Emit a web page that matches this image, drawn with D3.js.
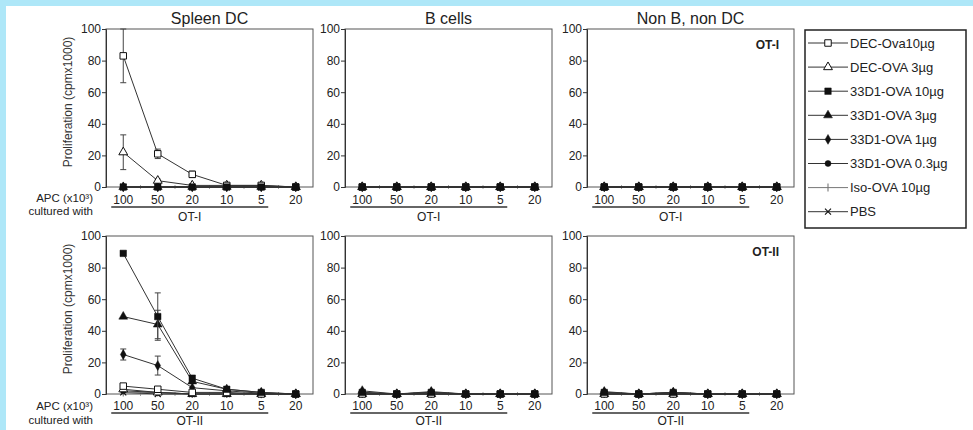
<!DOCTYPE html>
<html>
<head>
<meta charset="utf-8">
<script src="https://cdn.jsdelivr.net/npm/d3@7"></script>
<style>
  body { margin: 0; background: #fff; }
  svg { display: block; font-family: "Liberation Sans", Arial, Helvetica, sans-serif; }
</style>
</head>
<body>
<svg id="chart" width="973" height="430"></svg>
<script>
// ---- data ----------------------------------------------------------------
const doseLabels = ["100", "50", "20", "10", "5", "20"];
const seriesNames = ["DEC-Ova10µg", "DEC-OVA 3µg", "33D1-OVA 10µg", "33D1-OVA 3µg",
  "33D1-OVA 1µg", "33D1-OVA 0.3µg", "Iso-OVA 10µg", "PBS"];
const seriesMarkers = ["openSquare", "openTriangle", "square", "triangle",
  "diamond", "circle", "tick", "cross"];
const cellTypes = ["Spleen DC", "B cells", "Non B, non DC"];
const tcellLines = ["OT-I", "OT-II"];
const yTicks = [0, 20, 40, 60, 80, 100];

// one row per series, in the order of seriesNames
const spleenOT1 = [
  [83, 21, 8, 1, 1, 0], [22, 4, 1, 1, 1, 0], [0, 0, 0, 0, 0, 0], [0, 0, 0, 0, 0, 0],
  [0, 0, 0, 0, 0, 0], [0, 0, 0, 0, 0, 0], [0, 0, 0, 0, 0, 0], [0, 0, 0, 0, 0, 0]];
const spleenOT1Err = [
  [17, 3, 2, 0, 0, 0], [11, 1, 0, 0, 0, 0], [0, 0, 0, 0, 0, 0], [0, 0, 0, 0, 0, 0],
  [0, 0, 0, 0, 0, 0], [0, 0, 0, 0, 0, 0], [0, 0, 0, 0, 0, 0], [0, 0, 0, 0, 0, 0]];
const spleenOT2 = [
  [5, 3, 1, 1, 0, 0], [3, 1, 0, 0, 0, 0], [89, 49, 10, 3, 1, 0], [49, 44, 8, 3, 1, 0],
  [25, 18, 4, 2, 0.5, 0], [2, 1, 0, 0, 0, 0], [1, 1, 0, 0, 0, 0], [1, 0, 0, 0, 0, 0]];
const spleenOT2Err = [
  [0, 0, 0, 0, 0, 0], [0, 0, 0, 0, 0, 0], [0, 15, 0, 0, 0, 0], [0, 9, 0, 0, 0, 0],
  [3.5, 6, 0, 0, 0, 0], [0, 0, 0, 0, 0, 0], [0, 0, 0, 0, 0, 0], [0, 0, 0, 0, 0, 0]];
const bcellOT1 = [
  [0, 0, 0, 0, 0, 0], [0, 0, 0, 0, 0, 0], [0, 0, 0, 0, 0, 0], [0, 0, 0, 0, 0, 0],
  [0, 0, 0, 0, 0, 0], [0, 0, 0, 0, 0, 0], [0, 0, 0, 0, 0, 0], [0, 0, 0, 0, 0, 0]];
const bcellOT2 = [
  [0, 0, 0, 0, 0, 0], [0, 0, 0, 0, 0, 0], [1, 0, 1, 0, 0, 0], [2, 0, 1.5, 0, 0, 0],
  [1, 0, 1, 0, 0, 0], [0, 0, 0, 0, 0, 0], [0, 0, 0, 0, 0, 0], [0, 0, 0, 0, 0, 0]];
const nonBOT1 = [
  [0, 0, 0, 0, 0, 0], [0, 0, 0, 0, 0, 0], [0, 0, 0, 0, 0, 0], [0, 0, 0, 0, 0, 0],
  [0, 0, 0, 0, 0, 0], [0, 0, 0, 0, 0, 0], [0, 0, 0, 0, 0, 0], [0, 0, 0, 0, 0, 0]];
const nonBOT2 = [
  [0, 0, 0, 0, 0, 0], [0, 0, 0, 0, 0, 0], [1, 0, 1, 0, 0, 0], [1.5, 0, 1, 0, 0, 0],
  [1, 0, 1, 0, 0, 0], [0, 0, 0, 0, 0, 0], [0, 0, 0, 0, 0, 0], [0, 0, 0, 0, 0, 0]];

const panels = [
  { row: 0, col: 0, values: spleenOT1, err: spleenOT1Err },
  { row: 0, col: 1, values: bcellOT1 },
  { row: 0, col: 2, values: nonBOT1 },
  { row: 1, col: 0, values: spleenOT2, err: spleenOT2Err },
  { row: 1, col: 1, values: bcellOT2 },
  { row: 1, col: 2, values: nonBOT2 }
];

// ---- layout --------------------------------------------------------------
const INK = "#222";
const colLeft = [106, 345, 587];
const rowTop = [29, 236];
const panelW = 207;
const panelH = 158;
const drawOrder = [7, 6, 5, 4, 3, 1, 0, 2]; // filled squares end up on top

// per-row offsets below the zero line (the picture is not perfectly even)
const tickLabelDy = [17, 16];
const underlineDy = [20, 19];
const groupLabelDy = [34, 31];
const apcDy = [15, 16];
const culturedDy = [28, 30];

const svg = d3.select("#chart");

// cyan frame (top and left edges)
svg.append("rect").attr("width", 973).attr("height", 430).attr("fill", "#fff");
svg.append("rect").attr("x", 0).attr("y", 0).attr("width", 973).attr("height", 6).attr("fill", "#aee7f8");
svg.append("rect").attr("x", 0).attr("y", 0).attr("width", 6).attr("height", 430).attr("fill", "#aee7f8");

function markerPath(kind) {
  switch (kind) {
    case "openSquare":
    case "square": return d3.symbol(d3.symbolSquare, 42)();
    case "openTriangle":
    case "triangle": return d3.symbol(d3.symbolTriangle, 34)();
    case "diamond": return d3.symbol(d3.symbolDiamond, 28)();
    case "circle": return d3.symbol(d3.symbolCircle, 28)();
    case "tick": return "M0,-4V4";
    case "cross": return "M-3,-3L3,3M-3,3L3,-3";
  }
}

function drawMarker(g, kind, x, y) {
  const open = kind.startsWith("open");
  const linear = kind === "tick" || kind === "cross";
  g.append("path")
    .attr("d", markerPath(kind))
    .attr("transform", `translate(${x},${y})`)
    .attr("fill", linear ? "none" : open ? "#fff" : "#111")
    .attr("stroke", kind === "tick" ? "#777" : "#111")
    .attr("stroke-width", open ? 1 : linear ? 1.1 : 0.5);
}

panels.forEach(p => {
  const left = colLeft[p.col];
  const top = rowTop[p.row];
  const zero = top + panelH;

  const x = d3.scalePoint().domain(d3.range(doseLabels.length)).range([left, left + panelW]).padding(0.5);
  const y = d3.scaleLinear().domain([0, 100]).range([zero, top]);

  const g = svg.append("g");

  // frame
  g.append("rect")
    .attr("x", left).attr("y", top).attr("width", panelW).attr("height", panelH)
    .attr("fill", "none").attr("stroke", "#555").attr("stroke-width", 1);

  // y axis
  const yAxis = g.append("g")
    .attr("transform", `translate(${left},0)`)
    .call(d3.axisLeft(y).tickValues(yTicks).tickSize(4).tickPadding(1));
  yAxis.select(".domain").attr("stroke", "#333");
  yAxis.selectAll(".tick line").attr("stroke", "#333");
  yAxis.selectAll("text").attr("font-size", 12).attr("fill", INK).attr("font-family", null);

  // small ticks on the zero line between doses
  const step = x.step();
  g.selectAll("line.minor")
    .data(d3.range(doseLabels.length - 1))
    .enter().append("line")
    .attr("x1", i => x(i) + step / 2).attr("x2", i => x(i) + step / 2)
    .attr("y1", zero - 2).attr("y2", zero + 2)
    .attr("stroke", "#888").attr("stroke-width", 0.8);

  // dose labels
  g.selectAll("text.dose")
    .data(doseLabels)
    .enter().append("text")
    .attr("x", (d, i) => x(i)).attr("y", zero + tickLabelDy[p.row])
    .attr("text-anchor", "middle").attr("font-size", 12).attr("fill", INK)
    .text(d => d);

  // underline for the titrated doses + T cell line label
  g.append("line")
    .attr("x1", x(0) - 12).attr("x2", x(4) + 7)
    .attr("y1", zero + underlineDy[p.row]).attr("y2", zero + underlineDy[p.row])
    .attr("stroke", "#333").attr("stroke-width", 1.5);
  g.append("text")
    .attr("x", (x(0) - 12 + x(4) + 7) / 2).attr("y", zero + groupLabelDy[p.row])
    .attr("text-anchor", "middle").attr("font-size", 12).attr("fill", INK)
    .text(tcellLines[p.row]);

  // series lines, error bars, markers
  const line = d3.line().x((d, i) => x(i)).y(d => y(d));
  drawOrder.forEach(s => {
    const vals = p.values[s];
    g.append("path")
      .attr("d", line(vals))
      .attr("fill", "none")
      .attr("stroke", s === 6 ? "#777" : "#333")
      .attr("stroke-width", 1);
    if (p.err) {
      p.err[s].forEach((e, i) => {
        if (!e) return;
        const lo = y(Math.max(0, vals[i] - e)), hi = y(Math.min(100, vals[i] + e));
        g.append("line").attr("x1", x(i)).attr("x2", x(i)).attr("y1", lo).attr("y2", hi)
          .attr("stroke", "#444").attr("stroke-width", 1);
        [lo, hi].forEach(yy => g.append("line")
          .attr("x1", x(i) - 3).attr("x2", x(i) + 3).attr("y1", yy).attr("y2", yy)
          .attr("stroke", "#444").attr("stroke-width", 1));
      });
    }
    vals.forEach((v, i) => drawMarker(g, seriesMarkers[s], x(i), y(v)));
  });

  // titles on the top row
  if (p.row === 0) {
    svg.append("text")
      .attr("x", left + panelW / 2).attr("y", top - 5)
      .attr("text-anchor", "middle").attr("font-size", 16).attr("fill", INK)
      .text(cellTypes[p.col]);
  }

  // left column: y label and "APC ... cultured with"
  if (p.col === 0) {
    svg.append("text")
      .attr("transform", `translate(${left - 34},${top + panelH / 2 - 6}) rotate(-90)`)
      .attr("text-anchor", "middle").attr("font-size", 12).attr("fill", "#333")
      .text("Proliferation (cpmx1000)");
    svg.append("text")
      .attr("x", left - 13).attr("y", zero + apcDy[p.row])
      .attr("text-anchor", "end").attr("font-size", 11.5).attr("fill", INK)
      .text("APC (x10³)");
    svg.append("text")
      .attr("x", left - 13).attr("y", zero + culturedDy[p.row])
      .attr("text-anchor", "end").attr("font-size", 11.5).attr("fill", INK)
      .text("cultured with");
  }

  // right column: bold T cell line tag
  if (p.col === 2) {
    svg.append("text")
      .attr("x", left + panelW - 15).attr("y", top + 20)
      .attr("text-anchor", "end").attr("font-size", 12).attr("font-weight", "bold").attr("fill", INK)
      .text(tcellLines[p.row]);
  }
});

// ---- legend --------------------------------------------------------------
const legend = svg.append("g");
legend.append("rect")
  .attr("x", 805).attr("y", 30).attr("width", 161).attr("height", 198)
  .attr("fill", "#fff").attr("stroke", "#222").attr("stroke-width", 1.5);

seriesNames.forEach((name, s) => {
  const ly = 43 + s * 24.1;
  legend.append("line")
    .attr("x1", 808).attr("x2", 848).attr("y1", ly).attr("y2", ly)
    .attr("stroke", s === 6 ? "#777" : "#333").attr("stroke-width", 1);
  drawMarker(legend, seriesMarkers[s], 828, ly);
  legend.append("text")
    .attr("x", 850).attr("y", ly + 4.5)
    .attr("font-size", 13).attr("fill", INK)
    .text(name);
});
</script>
</body>
</html>
